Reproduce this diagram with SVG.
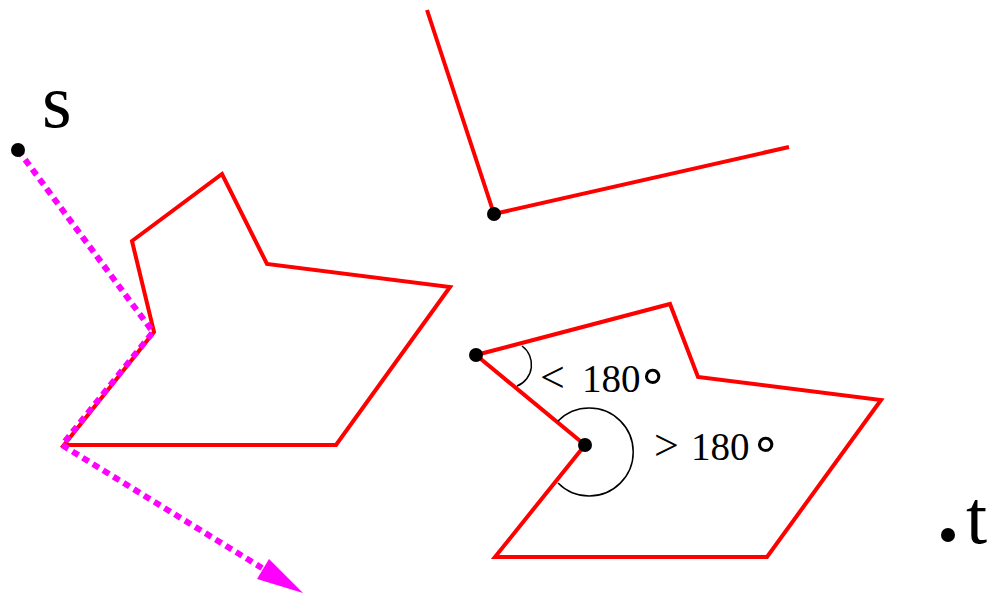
<svg xmlns="http://www.w3.org/2000/svg" width="990" height="594" viewBox="0 0 990 594">
<style>
.ob{fill:none;stroke:#ff0000;stroke-width:4;stroke-linejoin:miter}
.pt{fill:#000}
.arc{fill:none;stroke:#000;stroke-width:1.5}
.lbl{font-family:"Liberation Serif","DejaVu Serif",serif;fill:#000}
.op{font-size:44px}
.deg{font-family:"DejaVu Sans",sans-serif;font-size:50px}
.path{fill:none;stroke:#ff00ff;stroke-width:6;stroke-dasharray:7 5}
</style>
<rect width="990" height="594" fill="#fff"/>
<g id="obstacle-left"><polygon class="ob" points="132,241 222,174 267,264 450,287 336,445 64,445 154,332"/></g>
<g id="obstacle-top"><polyline class="ob" points="427,10 494,214 789,147"/></g>
<g id="obstacle-right"><polygon class="ob" points="476,355 670,304 698,377 881,400 767,557 495,557 585,445"/></g>
<g id="connectors">
<polyline class="path" points="18,150 153,332 62,445 262,568"/>
<polygon points="257,579 269,559 303,593" fill="#ff00ff"/>
</g>
<g id="angles">
<path class="arc" d="M522,346 A23,23 0 0,1 517,386"/>
<path class="arc" d="M558,421 A44,44 0 1,1 558,483"/>
</g>
<g id="points">
<circle class="pt" cx="18" cy="150" r="7"/>
<circle class="pt" cx="494" cy="214" r="7"/>
<circle class="pt" cx="476" cy="355" r="7"/>
<circle class="pt" cx="585" cy="445" r="7"/>
<circle class="pt" cx="948" cy="535" r="7"/>
</g>
<g id="labels">
<text class="lbl" x="42" y="127" font-size="76">s</text>
<text class="lbl" x="966" y="543" font-size="76">t</text>
<text class="lbl" y="392" font-size="39"><tspan class="op" x="540">&lt;</tspan><tspan x="582">180</tspan><tspan class="deg" x="637">∘</tspan></text>
<text class="lbl" y="460" font-size="39"><tspan class="op" x="654">&gt;</tspan><tspan x="691">180</tspan><tspan class="deg" x="750">∘</tspan></text>
</g>
</svg>
